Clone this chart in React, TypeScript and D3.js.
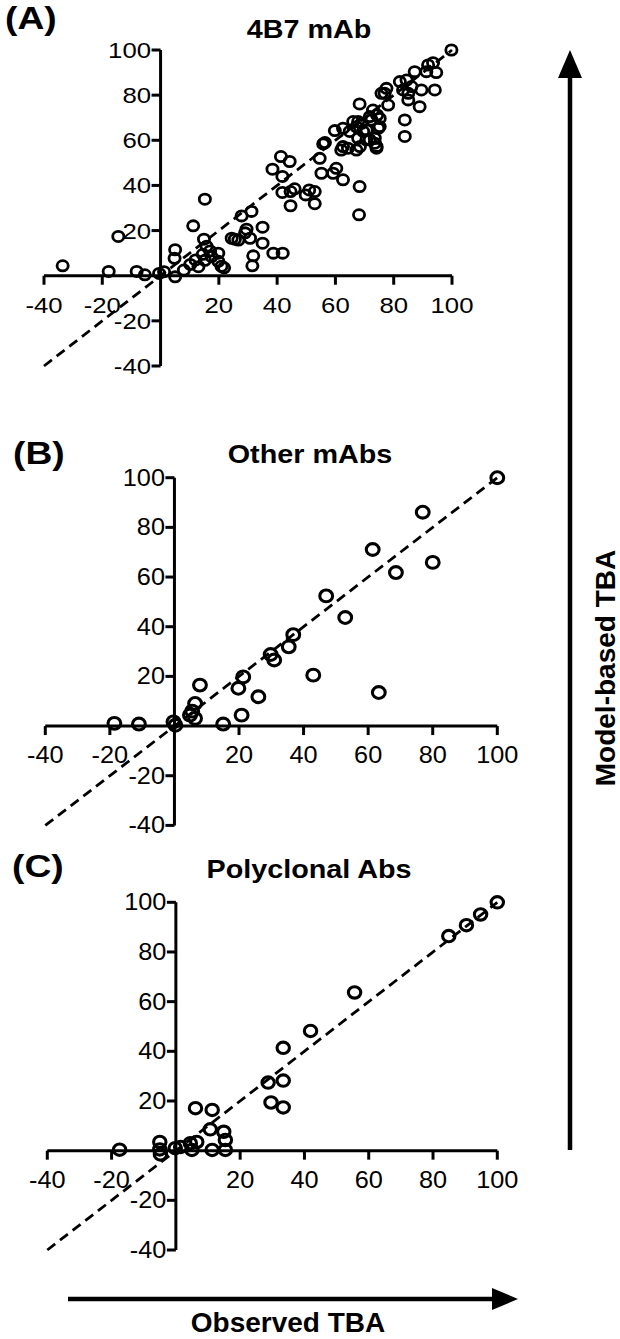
import React from "react";
import * as d3 from "d3";

// ---------- data (Observed TBA, Model-based TBA) ----------
const dataA: [number, number][] = [
  [-33.6, 4.4], [-17.8, 1.9], [-14.5, 17.4], [-8.2, 1.9], [-5.4, 0.4], [-0.5, 1.0], [1.2, 1.8],
  [5.0, -0.5], [5.0, 11.5], [4.8, 7.7], [8.0, 2.5], [10.2, 5.0], [12.0, 7.0], [11.2, 22.1],
  [15.2, 33.9], [14.9, 16.2], [15.8, 13.0], [14.5, 9.5], [15.2, 6.8], [17.0, 11.0], [19.8, 10.0],
  [19.8, 6.4], [20.9, 4.2], [21.8, 3.5], [13.0, 4.0], [17.5, 8.5],
  [25.5, 16.2], [24.4, 16.6], [26.7, 15.8], [27.8, 26.5], [31.2, 28.5], [29.5, 20.6], [29.0, 19.0],
  [30.7, 16.6], [31.8, 8.8], [31.5, 4.4], [35.0, 21.5], [35.0, 14.4], [38.7, 10.0], [41.9, 10.0],
  [38.4, 47.2], [41.3, 52.8], [44.3, 50.6], [41.8, 44.0], [41.8, 36.9], [44.6, 37.3], [44.6, 31.0],
  [46.0, 38.5], [49.8, 35.8], [52.9, 37.3], [51.0, 38.0], [52.9, 31.9], [55.2, 45.4], [54.6, 52.0],
  [55.8, 58.4], [56.4, 59.0], [59.2, 45.4], [60.3, 47.6], [62.6, 42.5], [59.8, 64.3], [62.6, 65.3],
  [62.6, 57.2], [64.3, 56.5], [68.3, 76.1], [68.3, 39.5], [68.1, 27.0], [62.0, 55.7], [64.9, 63.9],
  [67.8, 68.3], [69.5, 63.9], [70.6, 60.2], [73.5, 58.7], [74.1, 56.5], [73.5, 60.9], [75.2, 66.1],
  [71.8, 70.5], [66.1, 68.3], [67.2, 66.0], [67.8, 60.9], [68.4, 57.2], [67.2, 55.7], [68.9, 67.5],
  [70.7, 64.6], [71.8, 60.2], [74.1, 57.3], [74.7, 65.3], [75.2, 69.7], [72.4, 69.0], [74.3, 71.2],
  [72.9, 73.4], [75.8, 80.8], [76.9, 80.8], [77.5, 83.0], [78.1, 75.6],
  [82.1, 86.0], [83.2, 82.3], [84.4, 86.7], [86.1, 83.8], [85.0, 80.8], [85.0, 77.9], [83.8, 69.0],
  [83.8, 61.7], [88.9, 74.9], [89.5, 82.3], [87.2, 90.4], [91.2, 90.4], [91.8, 93.4], [93.5, 94.4],
  [94.6, 90.0], [94.1, 82.3], [99.8, 100],
];

const dataB: [number, number][] = [
  [-18.6, 1.1], [-11.0, 0.8], [-0.3, 1.7], [0.3, 0.3], [4.8, 4.4], [6.4, 3.1], [5.5, 6.0],
  [6.4, 9.1], [7.9, 16.5], [15.1, 0.8], [20.8, 4.4], [19.8, 15.2], [21.3, 19.8], [26.0, 11.8],
  [29.8, 28.8], [30.9, 26.6], [35.4, 31.9], [36.8, 36.8], [43.0, 20.5], [47.0, 52.4], [52.9, 43.7],
  [61.4, 71.1], [63.3, 13.5], [68.6, 61.8], [76.9, 86.1], [80.0, 65.9], [100, 100],
];

const dataC: [number, number][] = [
  [-17.5, 0.4], [-5.0, 3.5], [-5.0, 0.5], [-4.8, -1.5], [-0.2, 1.0], [1.5, 1.5], [4.5, 3.0],
  [5.0, 0.3], [6.5, 3.5], [6.1, 17.1], [11.3, 16.4], [10.7, 8.6], [14.9, 7.6], [15.4, 4.3],
  [15.4, 0.3], [11.3, 0.3], [28.7, 27.4], [29.6, 19.4], [33.4, 41.4], [33.4, 28.2], [33.4, 17.4],
  [41.9, 48.2], [55.6, 63.7], [84.9, 86.4], [90.4, 90.8], [94.8, 95.1], [100, 100],
];

const xTicks = [-40, -20, 20, 40, 60, 80, 100];
const yTicks = [-40, -20, 20, 40, 60, 80, 100];
const axisDomain: [number, number] = [-40, 100];
const panelLetters = ["(A)", "(B)", "(C)"];
const panelTitles = ["4B7 mAb", "Other mAbs", "Polyclonal Abs"];
const xAxisTitle = "Observed TBA";
const yAxisTitle = "Model-based TBA";

// ---------- layout ----------
const FONT = "'Liberation Sans', Arial, Helvetica, sans-serif";
const layouts = [
  { x: [44, 452], y: [366, 50], letter: [5, 28.7], title: [309, 38], rx: 5.6, ry: 5.1, sw: 2.8, sx: 1.12 },
  { x: [45.3, 497.3], y: [825.4, 477.7], letter: [13, 463.5], title: [310, 463], rx: 6.4, ry: 5.9, sw: 3.1, sx: 1.1 },
  { x: [47.3, 497.3], y: [1250, 902.3], letter: [12, 876.6], title: [309, 878], rx: 6.2, ry: 5.7, sw: 3.1, sx: 1.1 },
];
const datasets = [dataA, dataB, dataC];

function SText(props: {
  x: number; y: number; sx: number; size: number; weight?: string; anchor?: string; children: string;
}) {
  const { x, y, sx, size, weight = "normal", anchor = "start", children } = props;
  return (
    <text
      transform={`translate(${x},${y}) scale(${sx},1)`}
      fontFamily={FONT}
      fontSize={size}
      fontWeight={weight}
      textAnchor={anchor}
      fill="#000"
    >
      {children}
    </text>
  );
}

function Panel({ idx }: { idx: number }) {
  const L = layouts[idx];
  const data = datasets[idx];
  const x = d3.scaleLinear().domain(axisDomain).range(L.x as [number, number]);
  const y = d3.scaleLinear().domain(axisDomain).range(L.y as [number, number]);
  const x0 = x(0);
  const y0 = y(0);
  const line = d3.line<[number, number]>().x((d) => x(d[0])).y((d) => y(d[1]));
  const diag: [number, number][] = [[-40, -40], [100, 100]];
  const tickLen = 9;
  return (
    <g>
      <SText x={L.letter[0]} y={L.letter[1]} sx={1.2} size={31} weight="bold">
        {panelLetters[idx]}
      </SText>
      <SText x={L.title[0]} y={L.title[1]} sx={1.15} size={25} weight="bold" anchor="middle">
        {panelTitles[idx]}
      </SText>
      {/* identity line */}
      <path d={line(diag) || ""} fill="none" stroke="#000" strokeWidth={2.8} strokeDasharray="10,6" />
      {/* x axis */}
      <line x1={x(-40)} x2={x(100)} y1={y0} y2={y0} stroke="#000" strokeWidth={3} />
      {xTicks.map((t) => (
        <g key={"xt" + t}>
          <line x1={x(t)} x2={x(t)} y1={y0} y2={y0 + tickLen} stroke="#000" strokeWidth={3} />
          <SText x={x(t)} y={y0 + 37} sx={L.sx} size={23} anchor="middle">
            {String(t)}
          </SText>
        </g>
      ))}
      {/* y axis */}
      <line x1={x0} x2={x0} y1={y(-40)} y2={y(100)} stroke="#000" strokeWidth={3} />
      {yTicks.map((t) => (
        <g key={"yt" + t}>
          <line x1={x0 - tickLen} x2={x0} y1={y(t)} y2={y(t)} stroke="#000" strokeWidth={3} />
          <SText x={x0 - tickLen - 0.5} y={y(t) + 8} sx={L.sx} size={23} anchor="end">
            {String(t)}
          </SText>
        </g>
      ))}
      {/* points */}
      {data.map((d, i) => (
        <ellipse
          key={"p" + i}
          cx={x(d[0])}
          cy={y(d[1])}
          rx={L.rx}
          ry={L.ry}
          fill="none"
          stroke="#000"
          strokeWidth={L.sw}
        />
      ))}
    </g>
  );
}

export default function App() {
  return (
    <svg
      width={620}
      height={1339}
      viewBox="0 0 620 1339"
      style={{ position: "absolute", left: 0, top: 0, background: "#fff" }}
    >
      <rect x={0} y={0} width={620} height={1339} fill="#fff" />
      {[0, 1, 2].map((i) => (
        <Panel key={i} idx={i} />
      ))}
      {/* vertical arrow */}
      <line x1={570} x2={570} y1={1150} y2={76} stroke="#000" strokeWidth={4.5} />
      <path d="M570,50 L582,78 L558,78 Z" fill="#000" />
      <text
        transform="translate(615,668) rotate(-90)"
        fontFamily={FONT}
        fontSize={28}
        fontWeight="bold"
        textAnchor="middle"
      >
        {yAxisTitle}
      </text>
      {/* horizontal arrow */}
      <line x1={68} x2={494} y1={1299} y2={1299} stroke="#000" strokeWidth={4.5} />
      <path d="M518,1299 L492,1288 L492,1310 Z" fill="#000" />
      <text
        x={288}
        y={1332}
        fontFamily={FONT}
        fontSize={28}
        fontWeight="bold"
        textAnchor="middle"
      >
        {xAxisTitle}
      </text>
    </svg>
  );
}
